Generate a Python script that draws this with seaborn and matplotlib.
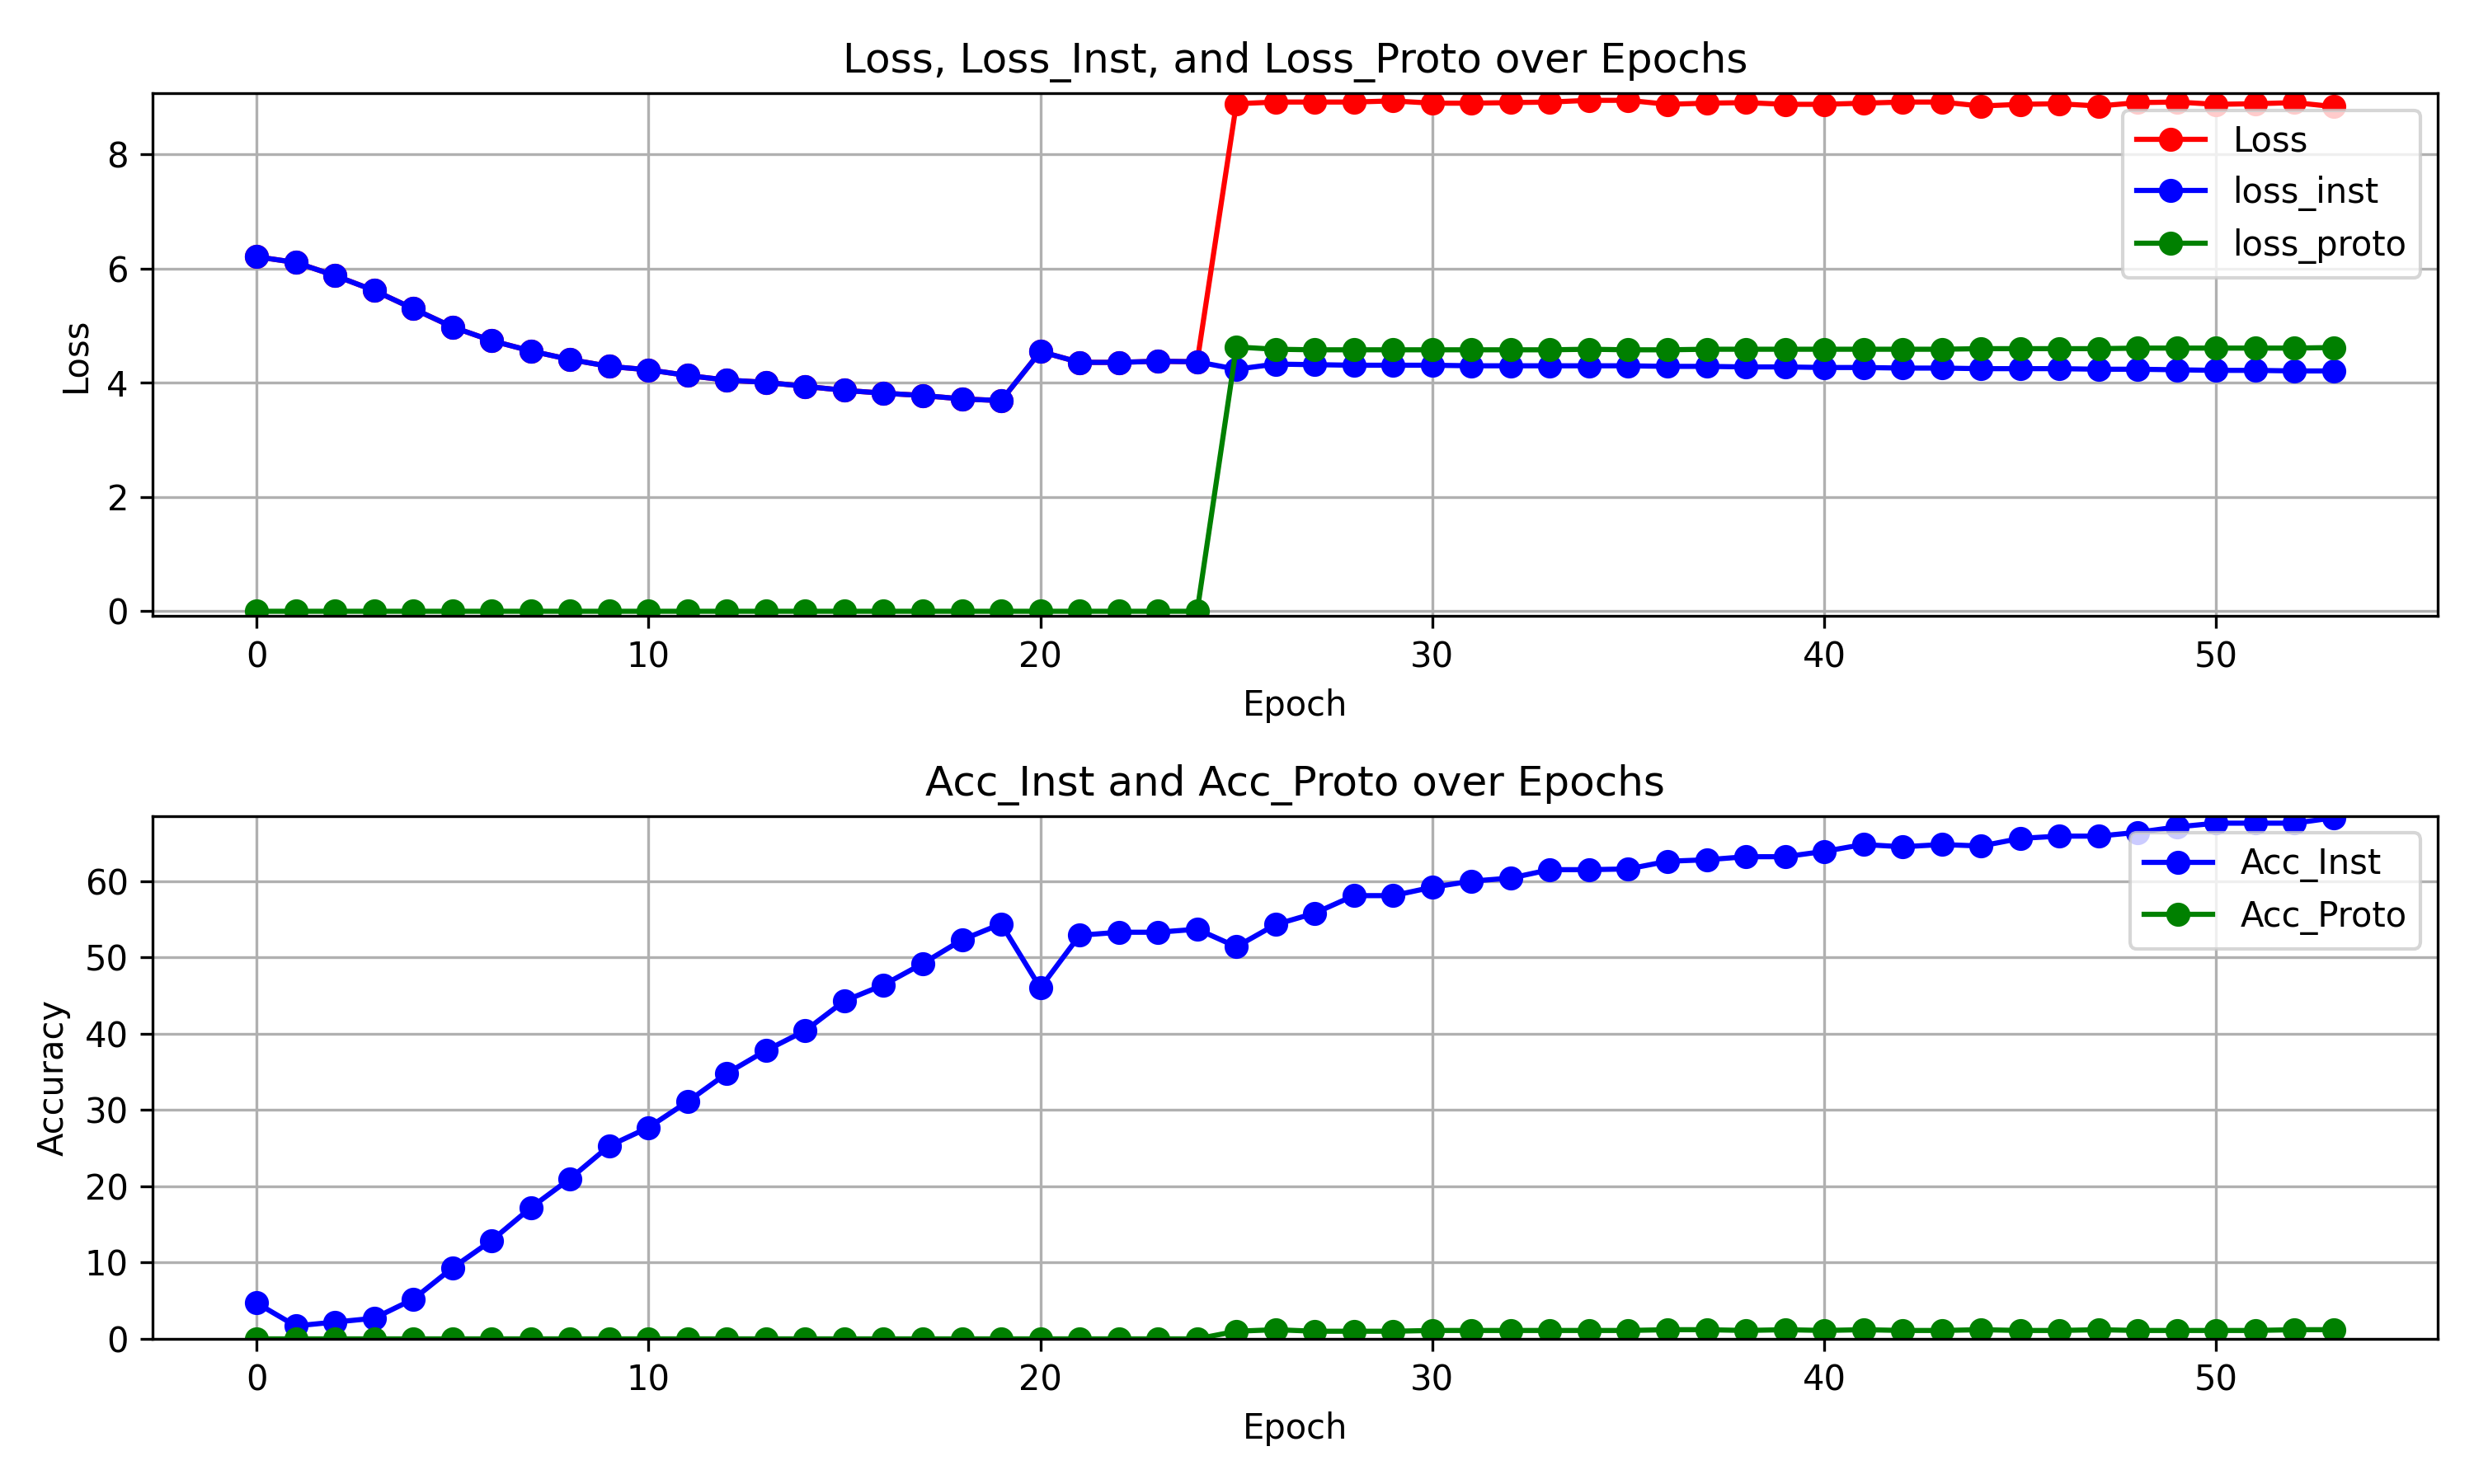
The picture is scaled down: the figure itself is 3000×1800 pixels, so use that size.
import numpy as np
import pandas as pd
import seaborn as sns
import matplotlib
matplotlib.use("Agg")
import matplotlib.pyplot as plt

epochs = list(range(54))

loss = [6.21, 6.11, 5.88, 5.62, 5.30, 4.98, 4.74, 4.56, 4.41, 4.29,
        4.23, 4.13, 4.05, 4.01, 3.94, 3.87, 3.82, 3.78, 3.72, 3.69,
        4.55, 4.36, 4.36, 4.38, 4.37,
        8.89, 8.92, 8.92, 8.92, 8.94, 8.90, 8.90, 8.91, 8.92, 8.95,
        8.95, 8.88, 8.90, 8.91, 8.88, 8.88, 8.90, 8.92, 8.92, 8.85,
        8.88, 8.89, 8.85, 8.91, 8.92, 8.88, 8.89, 8.91, 8.84]

loss_inst = [6.21, 6.11, 5.88, 5.62, 5.30, 4.98, 4.74, 4.56, 4.41, 4.29,
             4.23, 4.13, 4.05, 4.01, 3.94, 3.87, 3.82, 3.78, 3.72, 3.69,
             4.55, 4.36, 4.36, 4.38, 4.37,
             4.24, 4.33, 4.32, 4.31, 4.31, 4.31, 4.30, 4.30, 4.30, 4.30,
             4.30, 4.29, 4.29, 4.28, 4.28, 4.27, 4.27, 4.26, 4.26, 4.25,
             4.25, 4.25, 4.24, 4.24, 4.23, 4.22, 4.22, 4.21, 4.21]

loss_proto = [0.0] * 25 + [
    4.63, 4.59, 4.58, 4.58, 4.58, 4.58, 4.58, 4.58, 4.58, 4.59,
    4.58, 4.58, 4.59, 4.59, 4.59, 4.59, 4.59, 4.59, 4.59, 4.60,
    4.60, 4.60, 4.60, 4.61, 4.61, 4.61, 4.61, 4.61, 4.62]

acc_inst = [4.7, 1.7, 2.2, 2.7, 5.2, 9.3, 12.9, 17.2, 21.0, 25.3,
            27.7, 31.1, 34.8, 37.8, 40.4, 44.3, 46.4, 49.2, 52.3, 54.4,
            46.0, 52.9, 53.3, 53.3, 53.7,
            51.4, 54.3, 55.8, 58.1, 58.1, 59.2, 60.0, 60.4, 61.5, 61.5,
            61.6, 62.6, 62.8, 63.2, 63.2, 63.9, 64.8, 64.5, 64.8, 64.6,
            65.6, 65.9, 65.9, 66.4, 67.1, 67.6, 67.6, 67.6, 68.3]

acc_proto = [0.0] * 25 + [
    1.0, 1.2, 1.0, 1.0, 1.0, 1.1, 1.1, 1.1, 1.1, 1.1,
    1.1, 1.2, 1.2, 1.1, 1.2, 1.1, 1.2, 1.1, 1.1, 1.2,
    1.1, 1.1, 1.2, 1.1, 1.1, 1.1, 1.1, 1.2, 1.2]

fig, axes = plt.subplots(2, 1, figsize=(10, 6), dpi=300)

ax = axes[0]
for vals, col, lab in [(loss, "red", "Loss"), (loss_inst, "blue", "loss_inst"),
                       (loss_proto, "green", "loss_proto")]:
    sns.lineplot(x=epochs, y=vals, ax=ax, color=col, label=lab, marker="o",
                 markersize=6, markeredgecolor=col, markeredgewidth=1.0,
                 linewidth=1.5)
ax.set_title("Loss, Loss_Inst, and Loss_Proto over Epochs")
ax.set_xlabel("Epoch")
ax.set_ylabel("Loss")
ax.set_ylim(-0.08, 9.08)
ax.grid(True)
ax.legend(loc="upper right")

ax = axes[1]
for vals, col, lab in [(acc_inst, "blue", "Acc_Inst"), (acc_proto, "green", "Acc_Proto")]:
    sns.lineplot(x=epochs, y=vals, ax=ax, color=col, label=lab, marker="o",
                 markersize=6, markeredgecolor=col, markeredgewidth=1.0,
                 linewidth=1.5)
ax.set_title("Acc_Inst and Acc_Proto over Epochs")
ax.set_xlabel("Epoch")
ax.set_ylabel("Accuracy")
ax.set_ylim(0, 68.55)
ax.grid(True)
ax.legend(loc="upper right")

fig.subplots_adjust(left=0.0617, right=0.9853, top=0.9374, bottom=0.0978,
                    hspace=0.3825)
fig.savefig("out.png", dpi=300)
